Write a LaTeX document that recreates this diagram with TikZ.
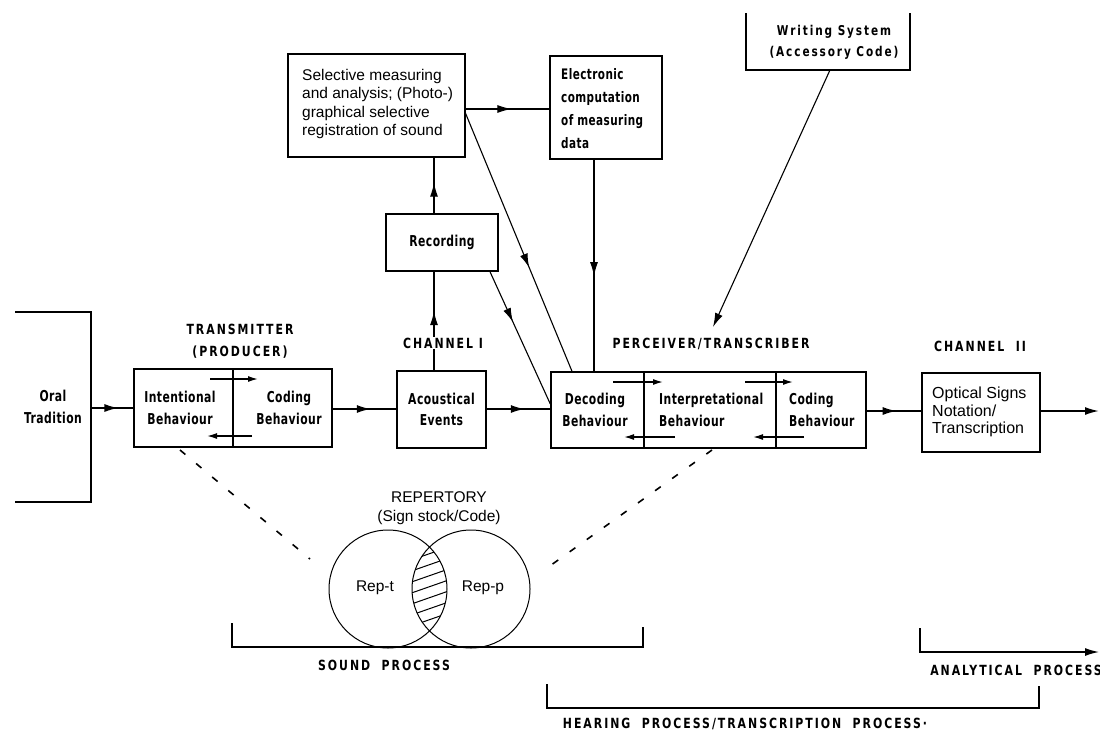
\documentclass[tikz,border=0pt]{standalone}
\usepackage{fontspec}
\setmainfont{Liberation Sans}
\newfontfamily\labfont[FakeStretch=0.72,LetterSpace=3]{DejaVu Sans}
\newfontfamily\capfont[FakeStretch=0.78,LetterSpace=14]{DejaVu Sans}
\usetikzlibrary{arrows.meta,decorations.markings}
\begin{document}
\begin{tikzpicture}[x=1pt,y=-1pt,
  >={Latex[length=14pt,width=8pt]},
  box/.style={draw,line width=1.4pt,inner sep=0pt},
  lab/.style={font=\labfont\bfseries\fontsize{15}{21.5}\selectfont,align=center,inner sep=0pt},
  caplab/.style={font=\capfont\bfseries\fontsize{14}{22}\selectfont,align=center,inner sep=1pt},
  hel/.style={font=\fontsize{15.5}{18.5}\selectfont,align=left,inner sep=0pt},
  conn/.style={line width=1.1pt},
  flow/.style={line width=1.8pt},
  inarrow/.style={line width=1.4pt,-{Latex[length=10pt,width=6pt]}},
  midarrow/.style={postaction={decorate},decoration={markings,mark=at position #1 with {\arrow{>}}}},
  midarrow/.default=0.5,
  dashline/.style={line width=1.6pt,dash pattern=on 7pt off 14pt}
]
\useasboundingbox (0,0) rectangle (1100,731);

% Oral tradition bracket
\draw[line width=1.4pt] (15,312) -- (91,312) -- (91,502) -- (15,502);
\coordinate (oral) at (91,408);
\node[lab] (oraltxt) at (53,407) {Oral\\Tradition};

% Transmitter
\node[box,minimum width=198pt,minimum height=78pt] (tx) at (233,408) {};
\draw[line width=1.4pt] (tx.north) -- (tx.south);
\node[lab] (txa) at (180,408) {Intentional\\Behaviour};
\node[lab] (txb) at (289,408) {Coding\\Behaviour};
\draw[inarrow] (210,379) -- (258,379);
\draw[inarrow] (252,436) -- (207,436);
\node[caplab] (txlab) at (240,341) {TRANSMITTER\\(PRODUCER)};

% Acoustical events
\node[box,minimum width=89pt,minimum height=77pt] (ac) at (441.5,409.5) {};
\node[lab] (actxt) at (441.5,409.5) {Acoustical\\Events};

% Recording
\node[box,minimum width=112pt,minimum height=57pt] (rec) at (442,242.5) {};
\node[lab] (rectxt) at (442,242.5) {Recording};

% Selective measuring
\node[box,minimum width=177pt,minimum height=103pt] (sel) at (376.5,105.5) {};
\node[hel,anchor=west] (seltxt) at (302,104) {Selective measuring\\and analysis; (Photo-)\\graphical selective\\registration of sound};

% Electronic computation
\node[box,minimum width=112pt,minimum height=103pt] (el) at (606,107.5) {};
\node[lab,align=left,anchor=west,font=\labfont\bfseries\fontsize{14.5}{23}\selectfont] (eltxt) at (561,109) {Electronic\\computation\\of measuring\\data};

% Writing system (open top)
\draw[line width=1.4pt] (746,13) -- (746,70) -- (910,70) -- (910,13);
\coordinate (ws) at (830,70);
\coordinate (wsend) at (713,327);
\node[caplab,font=\capfont\bfseries\fontsize{13.5}{21}\selectfont] (wstxt) at (834,42) {Writing System\\(Accessory Code)};

% Perceiver / transcriber
\node[box,minimum width=315pt,minimum height=76pt] (per) at (708.5,410) {};
\draw[line width=1.4pt] (644,0 |- per.north) -- (644,0 |- per.south);
\draw[line width=1.4pt] (776,0 |- per.north) -- (776,0 |- per.south);
\node[lab] (pera) at (595,410) {Decoding\\Behaviour};
\node[lab,align=left,anchor=west] (perb) at (659,410) {Interpretational\\Behaviour};
\node[lab,align=left,anchor=west] (perc) at (789,410) {Coding\\Behaviour};
\draw[inarrow] (613,382) -- (663,382);
\draw[inarrow] (745,382) -- (793,382);
\draw[inarrow] (675,437) -- (624,437);
\draw[inarrow] (804,437) -- (753,437);
\node[caplab] (perlab) at (711,344) {PERCEIVER/TRANSCRIBER};

% Optical signs
\node[box,minimum width=118pt,minimum height=79pt] (opt) at (981,412.5) {};
\node[hel,anchor=west,font=\fontsize{16}{17.5}\selectfont] (opttxt) at (932,412) {Optical Signs\\Notation/\\Transcription};
\coordinate (optend) at (1099,411);
\node[caplab] (ch2) at (980,346) {CHANNEL~~II};

% main flow
\draw[flow,midarrow=0.65] (oral) -- (oral -| tx.west);
\draw[flow,midarrow=0.6] (tx.east |- 0,409) -- (ac.west |- 0,409);
\draw[flow,midarrow=0.6] (ac.east |- 0,409) -- (per.west |- 0,409);
\draw[flow,midarrow=0.55] (per.east |- 0,411) -- (opt.west |- 0,411);
\draw[flow,->] (opt.east |- 0,411) -- (optend);

% channel I vertical
\draw[conn,midarrow=0.6] ([xshift=-7.5pt]ac.north) -- ([xshift=-8pt]rec.south);
\node[caplab,fill=white] (ch1) at (443,343) {CHANNEL~I};
\draw[conn,midarrow=0.55] ([xshift=-8pt]rec.north) -- (434,0 |- sel.south);

% selective -> electronic
\draw[conn,midarrow=0.55] (465,109) -- (el.west |- 0,109);
% electronic -> perceiver
\draw[conn,midarrow=0.55] (594,0 |- el.south) -- (594,0 |- per.north);
% selective -> perceiver diagonal
\draw[conn,midarrow=0.6] (465,112) -- (572,0 |- per.north);
% recording -> perceiver diagonal
\draw[conn,midarrow=0.38] (490,0 |- rec.south) -- (per.west |- 0,404);
% writing system -> perceiver
\draw[conn,->] (ws) -- (wsend);

% dashed lines
\coordinate (d1a) at (180,450);
\coordinate (d1b) at (310,559);
\coordinate (d2a) at (712,450);
\coordinate (d2b) at (547,568);
\draw[dashline] (d1a) -- (d1b);
\draw[dashline] (d2a) -- (d2b);

% repertory
\node[hel,align=center] (rep) at (439,508) {REPERTORY\\(Sign stock/Code)};
\draw[line width=1pt] (388,589) circle[radius=59];
\draw[line width=1pt] (471,589) circle[radius=59];
\begin{scope}
  \clip (388,589) circle[radius=59];
  \clip (471,589) circle[radius=59];
  \foreach \yy in {520,531,...,680} {
    \draw[line width=1pt] (400,\yy) -- (460,\yy-21);
  }
\end{scope}
\node[hel] (rept) at (375,588) {Rep-t};
\node[hel] (repp) at (483,588) {Rep-p};

% brackets
\draw[line width=1.4pt] (232,623) -- (232,647) -- (643,647) -- (643,627);
\node[caplab] (sound) at (384,665) {SOUND~~PROCESS};
\draw[line width=1.4pt] (547,684) -- (547,708) -- (1039,708) -- (1039,686);
\node[caplab] (hear) at (745,724) {HEARING~~PROCESS/TRANSCRIPTION~~PROCESS·};
\coordinate (anend) at (1099,652);
\draw[line width=1.4pt,->] (920,628) -- (920,652) -- (anend);
\node[caplab] (anal) at (1016,670) {ANALYTICAL~~PROCESS};
\end{tikzpicture}
\end{document}
